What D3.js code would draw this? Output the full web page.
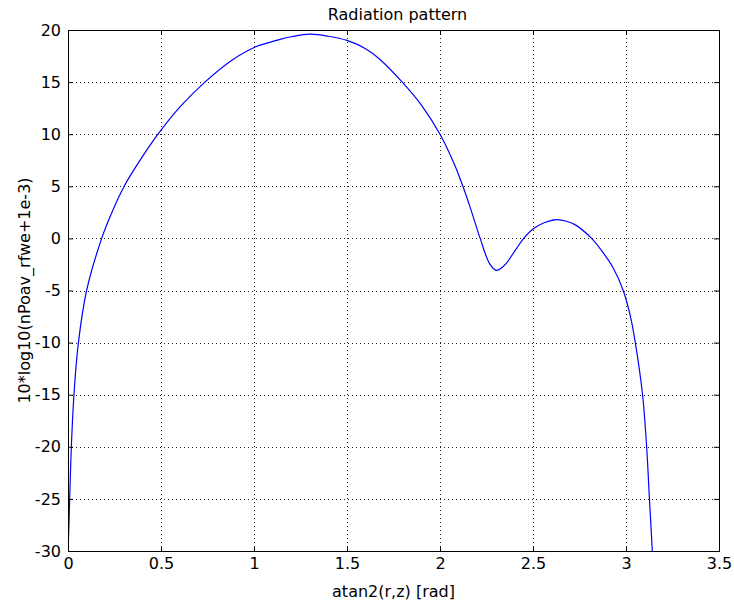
<!DOCTYPE html>
<html>
<head>
<meta charset="utf-8">
<script src="https://cdn.jsdelivr.net/npm/d3@7"></script>
<style>
  body { margin: 0; background: #fff; }
  svg text { font-family: "DejaVu Sans", Verdana, sans-serif; fill: #000; }
</style>
</head>
<body>
<div id="chart"></div>
<script>
// angle values (rad)
var angles = [0, 0.005, 0.009, 0.018, 0.032, 0.056, 0.1, 0.181, 0.229, 0.302, 0.387, 0.484, 0.602, 0.736,
  0.879, 1.004, 1.14, 1.2, 1.3, 1.4, 1.5, 1.6, 1.676, 1.797, 1.9, 2.0, 2.08, 2.123, 2.16, 2.216, 2.266,
  2.302, 2.33, 2.356, 2.41, 2.45, 2.5, 2.56, 2.624, 2.68, 2.732, 2.815, 2.87, 2.93, 2.985, 3.024, 3.05,
  3.089, 3.111, 3.126, 3.1416];
// 10*log10(nPoav_rfwe+1e-3)
var levels = [-30, -27.5, -25, -20, -15, -10, -5, 0, 2.2, 5, 7.49, 10, 12.62, 15,
  17.08, 18.35, 19.1, 19.35, 19.6, 19.4, 19.0, 18.2, 17.2, 15, 12.8, 10, 7.0, 5, 3.1, 0, -2.4,
  -3.07, -2.85, -2.4, -1.0, 0, 0.9, 1.5, 1.8, 1.65, 1.25, 0, -1.2, -2.8, -5, -7.5, -10,
  -15, -20, -25, -30];
var xTicks = [0, 0.5, 1, 1.5, 2, 2.5, 3, 3.5];
var yTicks = [-30, -25, -20, -15, -10, -5, 0, 5, 10, 15, 20];

var W = 734, H = 605;
var margin = {top: 30, right: 15, bottom: 54, left: 68};
var width = W - margin.left - margin.right;
var height = H - margin.top - margin.bottom;

var data = angles.map(function(a, i){ return {x: a, y: levels[i]}; });

var x = d3.scaleLinear().domain([0, 3.5]).range([0, width]);
var y = d3.scaleLinear().domain([-30, 20]).range([height, 0]);

var svg = d3.select("#chart").append("svg")
    .attr("width", W)
    .attr("height", H)
  .append("g")
    .attr("transform", "translate(" + [margin.left, margin.top] + ")");

svg.append("clipPath").attr("id", "clip")
  .append("rect").attr("width", width).attr("height", height);

// dotted grid
svg.append("g")
  .attr("class", "grid")
  .attr("transform", "translate(0," + height + ")")
  .call(d3.axisBottom(x).tickValues(xTicks).tickSize(-height).tickFormat(""));
svg.append("g")
  .attr("class", "grid")
  .call(d3.axisLeft(y).tickValues(yTicks).tickSize(-width).tickFormat(""));
svg.selectAll(".grid .domain").remove();
svg.selectAll(".grid line")
  .attr("stroke", "#222")
  .attr("stroke-dasharray", "1,3")
  .attr("shape-rendering", "crispEdges");

// curve
var line = d3.line()
  .x(function(d){ return x(d.x); })
  .y(function(d){ return y(d.y); })
  .curve(d3.curveCatmullRom.alpha(0.5));

svg.append("path")
  .datum(data)
  .attr("clip-path", "url(#clip)")
  .attr("fill", "none")
  .attr("stroke", "#0000ff")
  .attr("stroke-width", 1.2)
  .attr("d", line);

// axes, ticks pointing inward
var xAxis = d3.axisBottom(x).tickValues(xTicks).tickSize(-5).tickSizeOuter(0).tickPadding(7)
  .tickFormat(function(d){ return d; });
var yAxis = d3.axisLeft(y).tickValues(yTicks).tickSize(-5).tickSizeOuter(0).tickPadding(7)
  .tickFormat(function(d){ return d; });

svg.append("g").attr("class", "axis")
  .attr("transform", "translate(0," + height + ")")
  .call(xAxis);
svg.append("g").attr("class", "axis")
  .call(yAxis);
svg.append("g").attr("class", "axis")
  .call(d3.axisTop(x).tickValues(xTicks).tickSize(-5).tickSizeOuter(0).tickFormat(""));
svg.append("g").attr("class", "axis")
  .attr("transform", "translate(" + width + ",0)")
  .call(d3.axisRight(y).tickValues(yTicks).tickSize(-5).tickSizeOuter(0).tickFormat(""));

svg.selectAll(".axis text")
  .attr("font-size", "16px")
  .attr("font-family", "DejaVu Sans, sans-serif");
svg.selectAll(".axis .domain").remove();
svg.selectAll(".axis line").attr("stroke", "#000");

// frame
svg.append("rect")
  .attr("x", 0.5).attr("y", 0.5)
  .attr("width", width).attr("height", height)
  .attr("fill", "none")
  .attr("stroke", "#000")
  .attr("stroke-width", 1);

// title and labels
svg.append("text")
  .attr("x", width / 2 + 4)
  .attr("y", -10)
  .attr("text-anchor", "middle")
  .attr("font-size", "16px")
  .text("Radiation pattern");

svg.append("text")
  .attr("x", width / 2)
  .attr("y", height + 46)
  .attr("text-anchor", "middle")
  .attr("font-size", "16px")
  .text("atan2(r,z) [rad]");

svg.append("text")
  .attr("transform", "translate(" + (30 - margin.left) + "," + (height / 2) + ")rotate(-90)")
  .attr("text-anchor", "middle")
  .attr("font-size", "16px")
  .text("10*log10(nPoav_rfwe+1e-3)");
</script>
</body>
</html>
